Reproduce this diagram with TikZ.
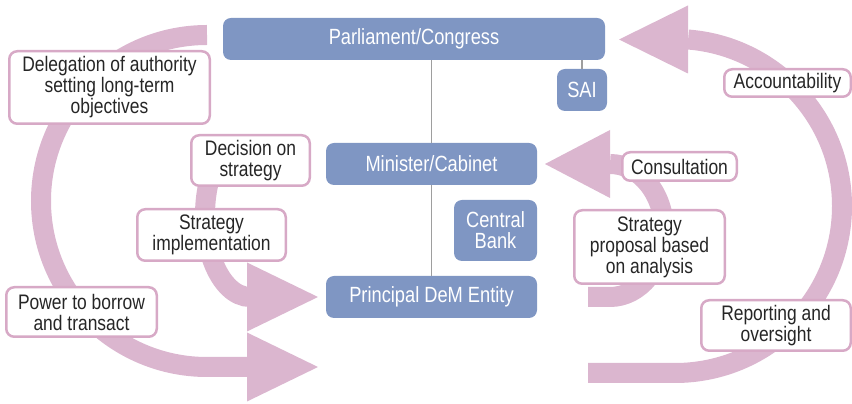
\documentclass[tikz,border=0pt]{standalone}
\usepackage{fontspec}
\newfontfamily\dmfont{Liberation Sans}[FakeStretch=0.83]
\definecolor{demblue}{HTML}{7F96C3}
\definecolor{dempink}{HTML}{DBB6CF}
\definecolor{dmedge}{HTML}{D7A9C6}
\definecolor{dmline}{HTML}{9E9E9E}

\begin{document}
\begin{tikzpicture}[x=1pt,y=1pt,
    band/.style={draw=dempink,line width=20pt},
    head/.style={fill=dempink}]
\useasboundingbox (0,0) rectangle (852,404);

\coordinate (borrowTip) at (318,37);
\coordinate (implTip) at (318,107);
\coordinate (consultTip) at (545,240);
\coordinate (accountTip) at (619,364.5);

\draw[band] (207,369) arc[start angle=90,end angle=270,radius=166] -- (250,37);
\fill[head] (borrowTip) -- ++(-71,34.5) -- ++(0,-69) -- cycle;
\draw[band] (250,189) ++(125:45 and 82) arc[start angle=125,end angle=270,x radius=45,y radius=82];
\fill[head] (implTip) -- ++(-71,34.5) -- ++(0,-69) -- cycle;
\draw[band] (588,107) -- (610,107) arc[start angle=270,end angle=450,x radius=54,y radius=66.5];
\fill[head] (consultTip) -- ++(65,34) -- ++(0,-68) -- cycle;
\draw[band] (588,31) -- (675,31) arc[start angle=270,end angle=445.5,radius=167];
\fill[head] (accountTip) -- ++(69,34) -- ++(0,-68) -- cycle;

\begin{scope}[every node/.style={rectangle,rounded corners=8pt,fill=demblue,text=white,
    font=\dmfont\fontsize{22}{21}\selectfont,align=center,inner sep=0pt}]
    \node[minimum width=382pt,minimum height=42pt] (parl) at (414,365) {Parliament/Congress};
    \node[minimum width=50pt,minimum height=42pt] (sai) at (582,314) {SAI};
    \node[minimum width=211pt,minimum height=42pt] (mincab) at (431.5,240) {Minister/Cabinet};
    \node[minimum width=83pt,minimum height=61pt] (cbank) at (495.5,173.5) {Central\\Bank};
    \node[minimum width=211pt,minimum height=42pt] (dem) at (431.5,107) {Principal DeM Entity};
\end{scope}

\begin{scope}[every node/.style={rectangle,rounded corners=8pt,draw=dmedge,line width=2.5pt,
    fill=white,text=black!85,font=\dmfont\fontsize{21}{21}\selectfont,align=center,inner sep=0pt}]
    \node[minimum width=200.5pt,minimum height=72.5pt] (deleg) at (109.5,316.5) {Delegation of authority\\setting long-term\\objectives};
    \node[minimum width=118.5pt,minimum height=50.5pt] (decide) at (250.5,243.5) {Decision on\\strategy};
    \node[minimum width=148.5pt,minimum height=51.5pt] (implement) at (211.5,169) {Strategy\\implementation};
    \node[minimum width=150.5pt,minimum height=49.5pt] (borrow) at (81.5,92) {Power to borrow\\and transact};
    \node[minimum width=126.5pt,minimum height=27.5pt] (account) at (787.5,321) {Accountability};
    \node[minimum width=114.5pt,minimum height=28.5pt] (consult) at (679.5,237.5) {Consultation};
    \node[minimum width=150.5pt,minimum height=73.5pt] (propose) at (649.5,157) {Strategy\\proposal based\\on analysis};
    \node[minimum width=149.5pt,minimum height=50.5pt] (report) at (776,78.5) {Reporting and\\oversight};
\end{scope}

\begin{scope}[dmline,line width=1.5pt]
    \draw (mincab.north) -- (mincab.north |- parl.south);
    \draw (mincab.south) -- (dem.north);
    \draw (sai.north) -- (sai.north |- parl.south);
\end{scope}
\end{tikzpicture}
\end{document}
